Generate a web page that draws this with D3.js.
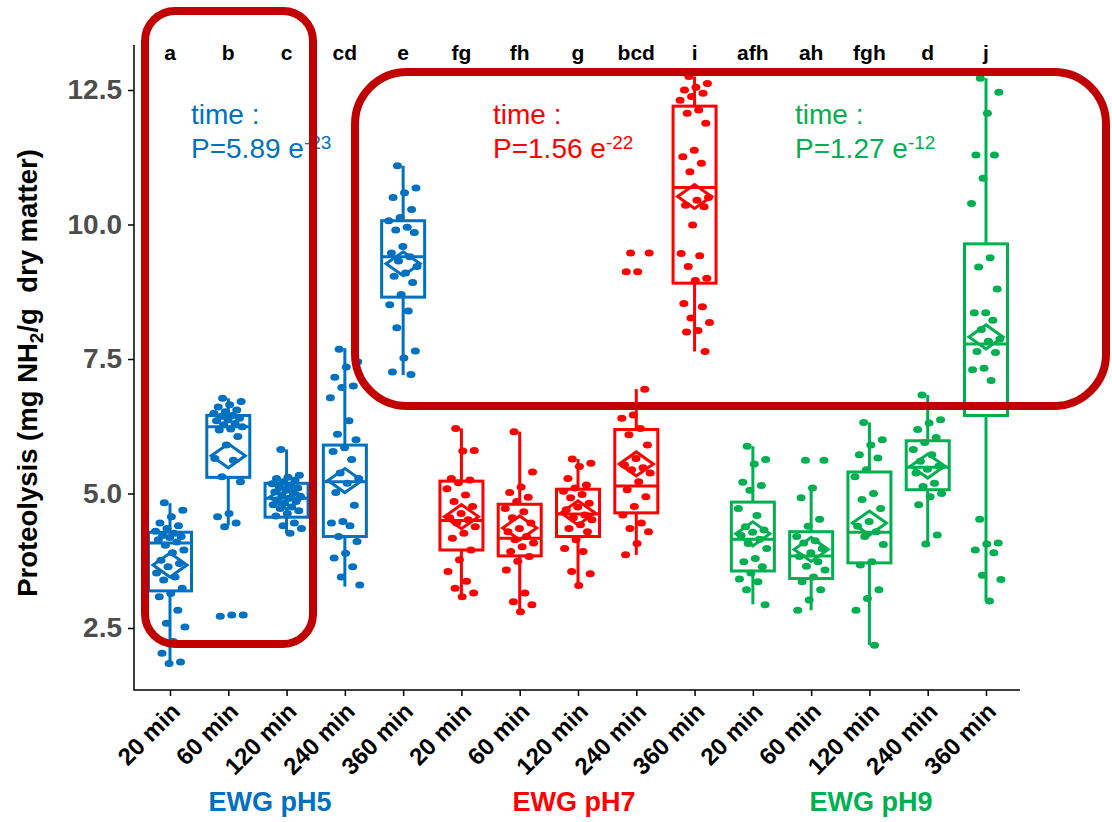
<!DOCTYPE html>
<html>
<head>
<meta charset="utf-8">
<script src="https://cdnjs.cloudflare.com/ajax/libs/d3/7.8.5/d3.min.js"></script>
<style>
body{margin:0;background:#fff;}
svg{display:block;font-family:"Liberation Sans",Arial,sans-serif;}
</style>
</head>
<body>
<div id="chart"></div>
<script>
// --- data ---
var groups = ['EWG pH5', 'EWG pH7', 'EWG pH9'];
var times = ['20 min', '60 min', '120 min', '240 min', '360 min'];
var groupColors = ['#0070C0', '#FF0000', '#00B050'];
var letters = ['a', 'b', 'c', 'cd', 'e', 'fg', 'fh', 'g', 'bcd', 'i', 'afh', 'ah', 'fgh', 'd', 'j'];
var pValues = [['5.89', '-23'], ['1.56', '-22'], ['1.27', '-12']];
var yTicks = [2.5, 5, 7.5, 10, 12.5];

// box statistics, one entry per group/time (pH5 x5, pH7 x5, pH9 x5)
var whiskerLow = [1.84, 4.41, 4.26, 3.27, 7.20, 3.08, 2.80, 3.29, 3.86, 7.64, 2.94, 2.83, 2.18, 4.06, 3.00];
var q1 = [3.19, 5.30, 4.56, 4.20, 8.65, 3.95, 3.84, 4.20, 4.64, 8.91, 3.56, 3.42, 3.71, 5.07, 6.45];
var median = [4.08, 6.24, 4.91, 5.22, 9.40, 4.50, 4.17, 4.62, 5.14, 10.69, 4.15, 3.84, 4.28, 5.49, 7.78];
var q3 = [4.28, 6.45, 5.19, 5.90, 10.07, 5.23, 4.80, 5.08, 6.19, 12.20, 4.84, 4.29, 5.40, 5.98, 9.64];
var whiskerHigh = [4.82, 6.77, 5.82, 7.70, 11.09, 6.21, 6.15, 5.64, 6.94, 12.75, 5.88, 5.10, 6.32, 6.83, 12.72];
var means = [3.67, 5.70, 4.93, 5.24, 9.27, 4.57, 4.36, 4.64, 5.55, 10.52, 4.25, 3.96, 4.45, 5.51, 7.91];

// individual measurements
var pointsPH5 = [
    [4.83, 4.69, 4.57, 4.45, 4.40, 4.35, 4.30, 4.26, 4.22, 4.20, 4.18, 4.14, 4.10, 4.04, 3.95, 3.90, 3.76, 3.70, 3.64, 3.52, 3.45, 3.39, 3.24, 3.14, 3.08, 2.83, 2.59, 2.52, 2.25, 2.03, 1.87, 1.84],
    [6.77, 6.71, 6.65, 6.61, 6.55, 6.52, 6.49, 6.45, 6.43, 6.40, 6.37, 6.35, 6.30, 6.28, 6.24, 6.20, 6.18, 6.06, 5.90, 5.65, 5.62, 5.31, 5.22, 4.63, 4.57, 4.45, 4.38, 2.74, 2.74, 2.72],
    [5.82, 5.34, 5.30, 5.28, 5.25, 5.22, 5.18, 5.16, 5.12, 5.10, 5.06, 5.03, 5.00, 4.97, 4.95, 4.91, 4.88, 4.85, 4.82, 4.79, 4.75, 4.72, 4.68, 4.63, 4.58, 4.45, 4.40, 4.35, 4.26],
    [7.68, 7.45, 7.35, 7.16, 7.00, 6.97, 6.78, 6.35, 6.10, 6.00, 5.85, 5.78, 5.63, 5.38, 5.28, 5.19, 5.02, 4.78, 4.48, 4.45, 4.40, 4.20, 4.11, 3.89, 3.80, 3.64, 3.45, 3.30],
    [11.09, 10.68, 10.59, 10.50, 10.28, 10.13, 10.07, 9.95, 9.90, 9.85, 9.59, 9.47, 9.40, 9.32, 9.22, 9.10, 9.04, 8.92, 8.70, 8.51, 8.39, 8.08, 7.65, 7.52, 7.26, 7.21]
];
var pointsPH7 = [
    [6.21, 5.80, 5.79, 5.28, 5.25, 5.20, 5.09, 4.97, 4.85, 4.76, 4.63, 4.55, 4.51, 4.45, 4.38, 4.26, 4.17, 3.95, 3.77, 3.55, 3.37, 3.24, 3.15, 3.08],
    [6.15, 5.40, 5.12, 5.02, 4.93, 4.85, 4.72, 4.66, 4.55, 4.45, 4.35, 4.29, 4.20, 4.14, 4.08, 4.01, 3.92, 3.83, 3.74, 3.58, 3.15, 2.99, 2.93, 2.80],
    [5.64, 5.56, 5.50, 5.28, 5.16, 5.10, 5.04, 4.98, 4.92, 4.82, 4.75, 4.70, 4.60, 4.55, 4.51, 4.42, 4.35, 4.29, 4.14, 3.98, 3.92, 3.55, 3.51, 3.29],
    [9.47, 9.47, 9.12, 9.12, 6.94, 6.46, 6.40, 6.21, 6.09, 5.90, 5.65, 5.53, 5.48, 5.44, 5.38, 5.22, 5.07, 4.94, 4.76, 4.60, 4.45, 4.35, 4.29, 4.07, 3.86],
    [12.75, 12.62, 12.55, 12.50, 12.44, 12.38, 12.31, 12.13, 12.07, 11.88, 11.38, 11.26, 11.14, 10.98, 10.50, 10.45, 10.36, 10.33, 9.99, 9.46, 9.42, 9.22, 9.00, 8.96, 8.53, 8.47, 8.26, 8.18, 8.03, 8.00, 7.64]
];
var pointsPH9 = [
    [5.88, 5.63, 5.55, 5.21, 5.15, 5.06, 4.72, 4.59, 4.38, 4.32, 4.28, 4.22, 4.15, 4.07, 3.98, 3.79, 3.73, 3.64, 3.52, 3.41, 3.36, 3.21, 2.93],
    [5.62, 5.62, 5.10, 4.92, 4.52, 4.39, 4.20, 4.12, 4.08, 3.98, 3.90, 3.83, 3.73, 3.65, 3.58, 3.45, 3.36, 3.21, 3.02, 2.83],
    [6.32, 6.00, 5.90, 5.72, 5.66, 5.44, 5.31, 5.00, 4.89, 4.72, 4.48, 4.39, 4.29, 4.20, 4.05, 3.73, 3.67, 3.21, 3.05, 2.83, 2.18],
    [6.83, 6.37, 6.31, 6.19, 6.04, 5.95, 5.82, 5.72, 5.60, 5.51, 5.45, 5.38, 5.19, 5.13, 5.00, 4.94, 4.79, 4.23, 4.06],
    [12.72, 12.46, 12.07, 11.29, 11.29, 10.86, 10.39, 9.38, 9.21, 8.80, 8.36, 8.36, 8.22, 8.05, 7.87, 7.83, 7.64, 7.62, 7.33, 7.30, 7.10, 4.52, 4.08, 4.06, 3.95, 3.90, 3.48, 3.40, 3.00]
];

var VIS = VIS || {};
VIS.boxJitter = function (options) {

    var settings = {
        width: 1112,
        height: 822,
        plot: { left: 134, right: 1020, top: 45, bottom: 690 },
        boxWidth: 43,
        jitterWidth: 15,
        font: '"Liberation Sans",Arial,sans-serif',
        frameColor: '#C00000'
    };

    var svg = d3.select(options.element).append('svg')
        .attr('width', settings.width)
        .attr('height', settings.height);

    var allPoints = [pointsPH5, pointsPH7, pointsPH9];
    var rows = [];
    groups.forEach(function (g, gi) {
        times.forEach(function (t, ti) {
            var i = gi * times.length + ti;
            rows.push({
                key: g + '|' + t, group: gi, time: t, letter: letters[i],
                lo: whiskerLow[i], q1: q1[i], med: median[i], q3: q3[i], hi: whiskerHigh[i],
                mean: means[i], pts: allPoints[gi][ti]
            });
        });
    });

    var yScale = d3.scaleLinear().domain([2.5, 12.5]).range([628, 90]);
    var xScale = d3.scalePoint().domain(rows.map(function (d) { return d.key; }))
        .range([170, 986]);

    // axes
    var yAxis = svg.append('g').attr('transform', 'translate(' + settings.plot.left + ',0)')
        .call(d3.axisLeft(yScale).tickValues(yTicks).tickSize(6).tickPadding(6)
            .tickFormat(d3.format('.1f')));
    yAxis.select('.domain').remove();
    yAxis.selectAll('.tick line').attr('stroke', '#000').attr('stroke-width', 1.5);
    yAxis.selectAll('.tick text').attr('fill', '#4D4D4D')
        .style('font-size', '28px').style('font-weight', 'bold').style('font-family', settings.font);

    var xAxis = svg.append('g').attr('transform', 'translate(0,' + settings.plot.bottom + ')')
        .call(d3.axisBottom(xScale).tickSize(6).tickFormat(function (k) { return k.split('|')[1]; }));
    xAxis.select('.domain').remove();
    xAxis.selectAll('.tick line').attr('stroke', '#000').attr('stroke-width', 1.5);
    xAxis.selectAll('.tick text')
        .attr('x', 0).attr('y', 0).attr('dy', 0)
        .attr('transform', 'translate(11,23) rotate(-45)')
        .attr('fill', '#000')
        .style('text-anchor', 'end')
        .style('font-size', '24px').style('font-weight', 'bold').style('font-family', settings.font);

    svg.append('path').attr('fill', 'none').attr('stroke', '#000').attr('stroke-width', 1.5)
        .attr('d', 'M' + settings.plot.left + ',' + settings.plot.top + 'V' + settings.plot.bottom +
            'H' + settings.plot.right);

    // boxes
    var bw = settings.boxWidth;
    var box = svg.append('g').selectAll('.box').data(rows).enter().append('g')
        .attr('class', 'box')
        .attr('transform', function (d) { return 'translate(' + xScale(d.key) + ',0)'; })
        .attr('stroke', function (d) { return groupColors[d.group]; })
        .attr('fill', function (d) { return groupColors[d.group]; });

    box.append('line').attr('stroke-width', 3)
        .attr('y1', function (d) { return yScale(d.hi); }).attr('y2', function (d) { return yScale(d.q3); });
    box.append('line').attr('stroke-width', 3)
        .attr('y1', function (d) { return yScale(d.q1); }).attr('y2', function (d) { return yScale(d.lo); });
    box.append('rect').attr('fill', 'none').attr('stroke-width', 3)
        .attr('x', -bw / 2).attr('width', bw)
        .attr('y', function (d) { return yScale(d.q3); })
        .attr('height', function (d) { return yScale(d.q1) - yScale(d.q3); });
    box.append('line').attr('stroke-width', 3).attr('x1', -bw / 2).attr('x2', bw / 2)
        .attr('y1', function (d) { return yScale(d.med); }).attr('y2', function (d) { return yScale(d.med); });

    // jittered points (fixed low-discrepancy offsets, no randomness)
    box.selectAll('.pt').data(function (d) { return d.pts; }).enter().append('ellipse')
        .attr('class', 'pt').attr('stroke', 'none')
        .attr('cx', function (v, i) { return (((i * 0.618034 + 0.31) % 1) - 0.5) * 2 * settings.jitterWidth; })
        .attr('cy', function (v) { return yScale(v); })
        .attr('rx', 4.5).attr('ry', 3.5);

    // mean diamond
    box.append('path').attr('fill', 'none').attr('stroke-width', 3)
        .attr('d', function (d) {
            var y = yScale(d.mean);
            return 'M-17,' + y + 'L0,' + (y - 12) + 'L17,' + y + 'L0,' + (y + 12) + 'Z';
        });

    // significance letters
    svg.append('g').selectAll('text').data(rows).enter().append('text')
        .attr('x', function (d) { return xScale(d.key); }).attr('y', 60)
        .attr('text-anchor', 'middle')
        .style('font-size', '21px').style('font-weight', 'bold')
        .text(function (d) { return d.letter; });

    // p-value annotations
    var annX = [191, 493, 795];
    groups.forEach(function (g, gi) {
        var ann = svg.append('g').attr('fill', groupColors[gi]).style('font-size', '28px');
        ann.append('text').attr('x', annX[gi]).attr('y', 124).text('time :');
        var p = ann.append('text').attr('x', annX[gi]).attr('y', 158);
        p.append('tspan').text('P=' + pValues[gi][0] + ' e');
        p.append('tspan').attr('dy', -9).style('font-size', '19px').text(pValues[gi][1]);
    });

    // highlight frames
    svg.append('rect').attr('fill', 'none').attr('stroke', settings.frameColor).attr('stroke-width', 8)
        .attr('x', 145).attr('y', 11).attr('width', 168).attr('height', 633).attr('rx', 30);
    svg.append('rect').attr('fill', 'none').attr('stroke', settings.frameColor).attr('stroke-width', 8)
        .attr('x', 355).attr('y', 72).attr('width', 751).attr('height', 334).attr('rx', 52);

    // group labels
    var groupLabelX = [270, 574, 871];
    svg.append('g').selectAll('text').data(groups).enter().append('text')
        .attr('x', function (d, i) { return groupLabelX[i]; }).attr('y', 811)
        .attr('text-anchor', 'middle')
        .attr('fill', function (d, i) { return groupColors[i]; })
        .style('font-size', '27px').style('font-weight', 'bold')
        .text(function (d) { return d; });

    // y title
    var title = svg.append('text')
        .attr('transform', 'translate(37,373) rotate(-90)')
        .attr('text-anchor', 'middle')
        .style('font-size', '27.5px').style('font-weight', 'bold').style('white-space', 'pre');
    title.append('tspan').text('Proteolysis (mg NH');
    title.append('tspan').attr('dy', 6).style('font-size', '19px').text('2');
    title.append('tspan').attr('dy', -6).text('/g  dry matter)');

    return { svg: svg };
};

VIS.boxJitter({ element: '#chart' });
</script>
</body>
</html>
